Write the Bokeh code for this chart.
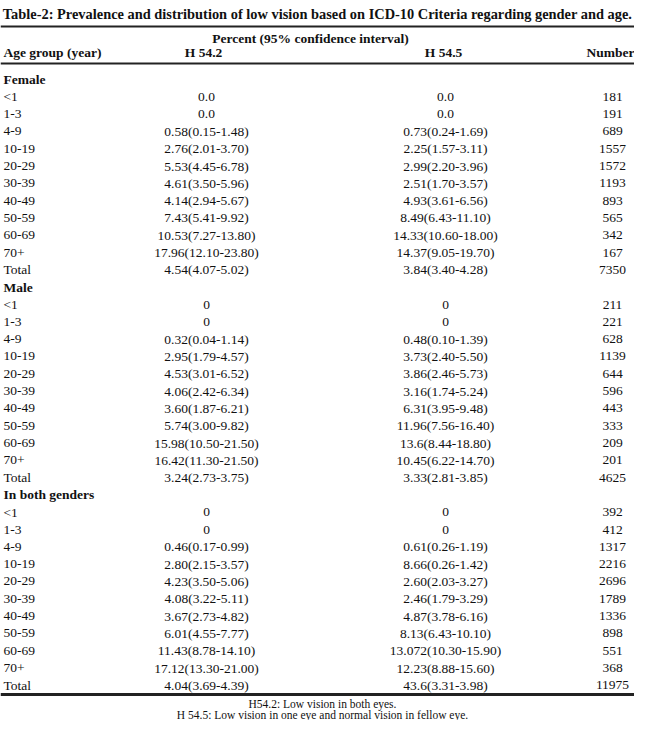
from bokeh.plotting import figure
from bokeh.models import Range1d, ColumnDataSource
from bokeh.core.properties import value
from bokeh.embed import file_html
from bokeh.resources import INLINE

title = "Table-2: Prevalence and distribution of low vision based on ICD-10 Criteria regarding gender and age."
span_header = "Percent (95% confidence interval)"
col_headers = ["Age group (year)", "H 54.2", "H 54.5", "Number"]
sections = ["Female", "Male", "In both genders"]
age_groups = ["<1", "1-3", "4-9", "10-19", "20-29", "30-39", "40-49", "50-59", "60-69", "70+", "Total"]

female_h542 = ["0.0", "0.0", "0.58(0.15-1.48)", "2.76(2.01-3.70)", "5.53(4.45-6.78)", "4.61(3.50-5.96)",
               "4.14(2.94-5.67)", "7.43(5.41-9.92)", "10.53(7.27-13.80)", "17.96(12.10-23.80)", "4.54(4.07-5.02)"]
female_h545 = ["0.0", "0.0", "0.73(0.24-1.69)", "2.25(1.57-3.11)", "2.99(2.20-3.96)", "2.51(1.70-3.57)",
               "4.93(3.61-6.56)", "8.49(6.43-11.10)", "14.33(10.60-18.00)", "14.37(9.05-19.70)", "3.84(3.40-4.28)"]
female_n = [181, 191, 689, 1557, 1572, 1193, 893, 565, 342, 167, 7350]

male_h542 = ["0", "0", "0.32(0.04-1.14)", "2.95(1.79-4.57)", "4.53(3.01-6.52)", "4.06(2.42-6.34)",
             "3.60(1.87-6.21)", "5.74(3.00-9.82)", "15.98(10.50-21.50)", "16.42(11.30-21.50)", "3.24(2.73-3.75)"]
male_h545 = ["0", "0", "0.48(0.10-1.39)", "3.73(2.40-5.50)", "3.86(2.46-5.73)", "3.16(1.74-5.24)",
             "6.31(3.95-9.48)", "11.96(7.56-16.40)", "13.6(8.44-18.80)", "10.45(6.22-14.70)", "3.33(2.81-3.85)"]
male_n = [211, 221, 628, 1139, 644, 596, 443, 333, 209, 201, 4625]

both_h542 = ["0", "0", "0.46(0.17-0.99)", "2.80(2.15-3.57)", "4.23(3.50-5.06)", "4.08(3.22-5.11)",
             "3.67(2.73-4.82)", "6.01(4.55-7.77)", "11.43(8.78-14.10)", "17.12(13.30-21.00)", "4.04(3.69-4.39)"]
both_h545 = ["0", "0", "0.61(0.26-1.19)", "8.66(0.26-1.42)", "2.60(2.03-3.27)", "2.46(1.79-3.29)",
             "4.87(3.78-6.16)", "8.13(6.43-10.10)", "13.072(10.30-15.90)", "12.23(8.88-15.60)", "43.6(3.31-3.98)"]
both_n = [392, 412, 1317, 2216, 2696, 1789, 1336, 898, 551, 368, 11975]

footnotes = ["H54.2: Low vision in both eyes.",
             "H 54.5: Low vision in one eye and normal vision in fellow eye."]

section_data = [(female_h542, female_h545, female_n),
                (male_h542, male_h545, male_n),
                (both_h542, both_h545, both_n)]

# layout (pixel space of the figure)
W, H = 634, 720
FONT = value("Liberation Serif")
row0, dy = 79.0, 17.31
x_label, x_c1, x_c2, x_c3 = 3, 206, 445, 612

p = figure(width=W, height=H, output_backend="svg", toolbar_location=None,
           x_range=Range1d(0, W), y_range=Range1d(H, 0), min_border=0,
           background_fill_color="white", border_fill_color="white")
p.axis.visible = False
p.xgrid.visible = False
p.ygrid.visible = False
p.outline_line_color = None

# rules
p.line(x=[0, W], y=[26, 26], line_color="#222222", line_width=2)
p.line(x=[0, W], y=[63, 63], line_color="#222222", line_width=2)
p.line(x=[0, W], y=[694, 694], line_color="#222222", line_width=3)

def txt(xs, ys, texts, align="left", size="13.5px", style="normal"):
    src = ColumnDataSource(dict(x=xs, y=ys, t=texts))
    p.text(x="x", y="y", text="t", source=src, text_font=FONT, text_font_size=size,
           text_align=align, text_baseline="middle", text_font_style=style, text_color="#111111")

txt([317], [13], [title], align="center", size="14.4px", style="bold")
txt([310], [38], [span_header], align="center", style="bold")
txt([x_label], [52], [col_headers[0]], style="bold")
txt([203, 443, 610], [52, 52, 52], col_headers[1:], align="center", style="bold")

sec_x, sec_y, sec_t = [], [], []
lab_x, lab_y, lab_t = [], [], []
c1, c2, c3, ys = [], [], [], []
i = 0
for name, (a, b, n) in zip(sections, section_data):
    sec_x.append(x_label); sec_y.append(row0 + i * dy); sec_t.append(name)
    i += 1
    for g, va, vb, vn in zip(age_groups, a, b, n):
        y = row0 + i * dy
        lab_x.append(x_label); lab_y.append(y); lab_t.append(g)
        c1.append(va); c2.append(vb); c3.append(str(vn)); ys.append(y)
        i += 1

txt(sec_x, sec_y, sec_t, style="bold")
txt(lab_x, lab_y, lab_t)
txt([x_c1] * len(ys), ys, c1, align="center")
txt([x_c2] * len(ys), ys, c2, align="center")
txt([x_c3] * len(ys), ys, c3, align="center")

txt([322, 322], [703, 714.5], footnotes, align="center", size="11.5px")

open("out.html", "w").write(file_html(p, INLINE))
